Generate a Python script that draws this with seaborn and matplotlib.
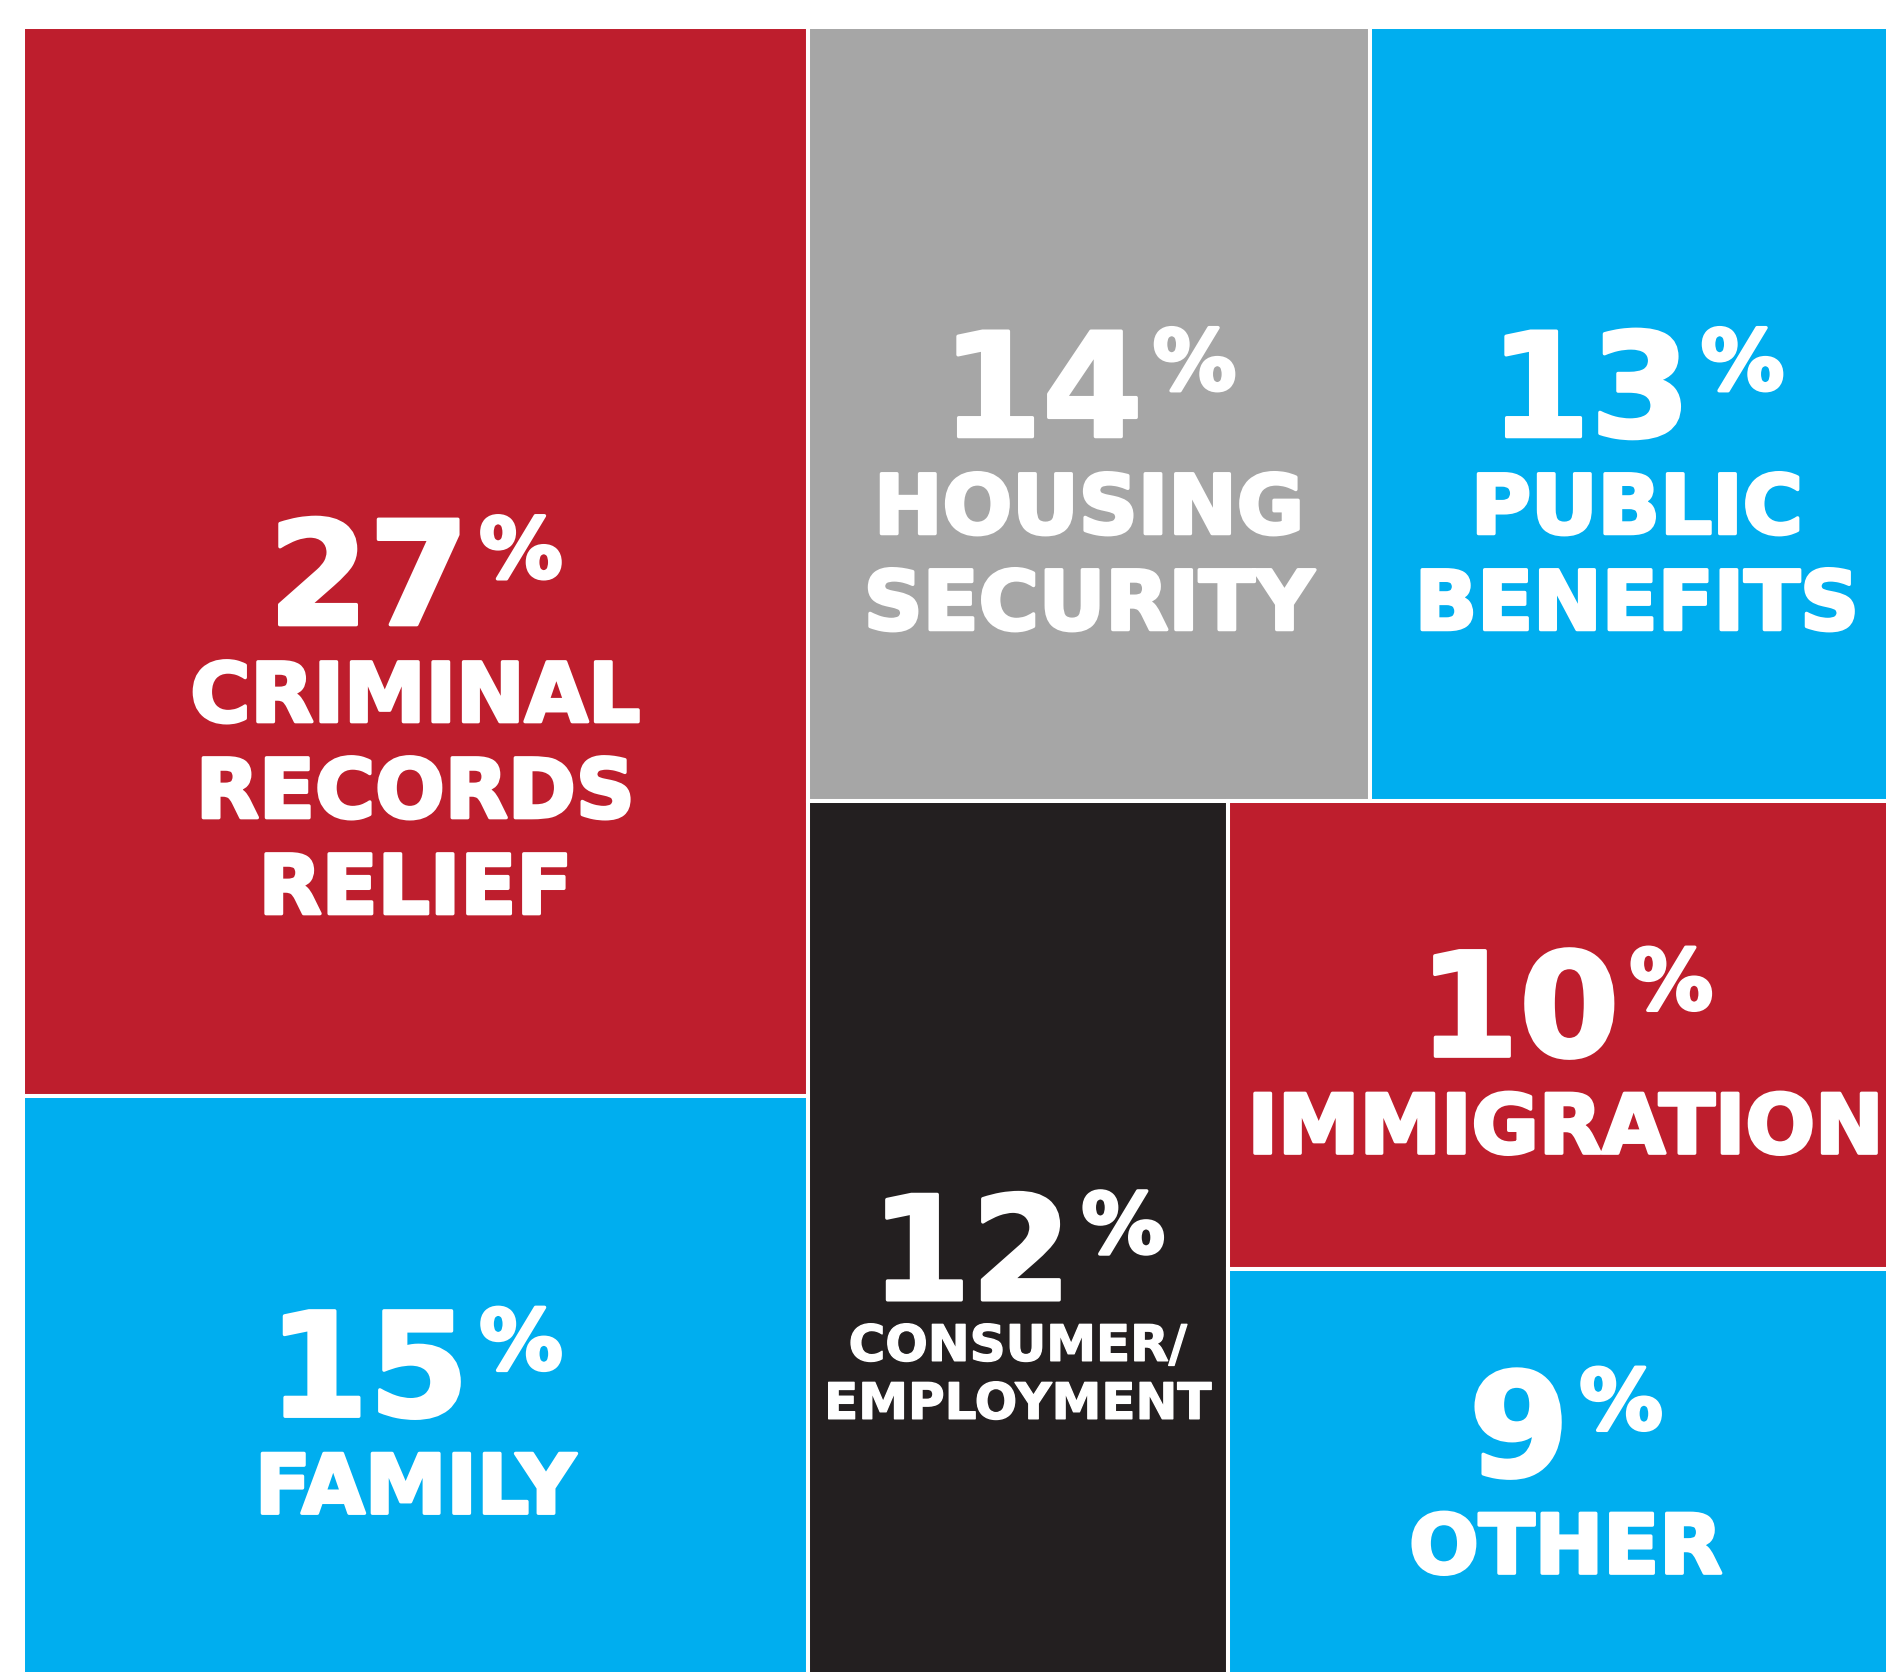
import numpy as np
import pandas as pd
import seaborn as sns
import matplotlib.pyplot as plt
import matplotlib.patheffects as pe

# share of cases by practice area (percent)
categories = ["CRIMINAL\nRECORDS\nRELIEF", "FAMILY", "HOUSING\nSECURITY", "PUBLIC\nBENEFITS",
              "CONSUMER/\nEMPLOYMENT", "IMMIGRATION", "OTHER"]
shares = [27, 15, 14, 13, 12, 10, 9]
colors = ["#BE1E2D", "#00AEEF", "#A6A6A6", "#00AEEF", "#231F20", "#BE1E2D", "#00AEEF"]

# where the number baseline sits inside each block (fraction of block height)
anchor = [0.559, 0.539, 0.529, 0.529, 0.561, 0.545, 0.492]
small_label = [False, False, False, False, True, False, False]

sns.set_theme(style="white")
plt.rcParams["font.family"] = ["DejaVu Sans"]


def treemap(s, x0, y0, x1, y1):
    # fixed slice-and-dice layout: left column (0,1), right top row (2,3), right bottom (4, then 5 over 6)
    W, H = x1 - x0, y1 - y0
    tot = sum(s)
    wl = W * (s[0] + s[1]) / tot
    h0 = H * s[0] / (s[0] + s[1])
    xr, wr = x0 + wl, W - wl
    ht = H * (s[2] + s[3]) / sum(s[2:])
    w2 = wr * s[2] / (s[2] + s[3])
    w4 = wr * s[4] / sum(s[4:])
    hb = H - ht
    h5 = hb * s[5] / (s[5] + s[6])
    return [
        (x0, y0, wl, h0),
        (x0, y0 + h0, wl, H - h0),
        (xr, y0, w2, ht),
        (xr + w2, y0, wr - w2, ht),
        (xr, y0 + ht, w4, hb),
        (xr + w4, y0 + ht, wr - w4, h5),
        (xr + w4, y0 + ht + h5, wr - w4, hb - h5),
    ]


fig = plt.figure(figsize=(18.86, 16.72), dpi=100, facecolor="white")
ax = fig.add_axes([0, 0, 1, 1])
ax.set_xlim(0, 1886)
ax.set_ylim(1672, 0)
ax.axis("off")

df = pd.DataFrame(treemap(shares, 23, 27, 1892, 1690), columns=["x", "y", "w", "h"])
df["color"] = colors
ax.bar(df["x"], df["h"], width=df["w"], bottom=df["y"], align="edge",
       color=df["color"], edgecolor="white", linewidth=2.9)

renderer = fig.canvas.get_renderer()
thick = [pe.withStroke(linewidth=2.5, foreground="white")]
thin = [pe.withStroke(linewidth=1.0, foreground="white")]
for i, row in df.iterrows():
    # labels sit a touch right of centre in the right-hand blocks
    cx = row["x"] + row["w"] / 2 + (6 if row["x"] > 1000 else 0)
    base = row["y"] + row["h"] * anchor[i]
    num = ax.text(0, base, str(shares[i]), fontsize=104, fontweight="bold", color="white",
                  ha="left", va="baseline", path_effects=thick)
    pct = ax.text(0, base - 111, "%", fontsize=60, fontweight="bold", color="white",
                  ha="left", va="top", path_effects=thick)
    wn = num.get_window_extent(renderer).width
    wp = pct.get_window_extent(renderer).width
    left = cx - (wn + 10 + wp) / 2
    num.set_x(left)
    pct.set_x(left + wn + 10)

    if small_label[i]:
        fs, first, pitch, fx = 36, 61, 58, thin
    else:
        fs, first, pitch, fx = 59, 97, 96, thick
    for k, line in enumerate(categories[i].split("\n")):
        ax.text(cx, base + first + k * pitch, line, fontsize=fs, fontweight="bold",
                color="white", ha="center", va="baseline", path_effects=fx)

fig.savefig("out.png", dpi=100, facecolor="white")
